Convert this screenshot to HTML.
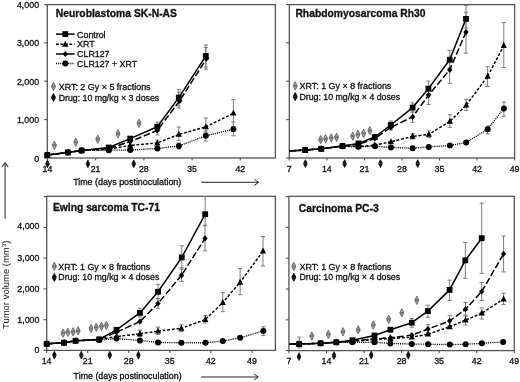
<!DOCTYPE html><html><head><meta charset="utf-8"><style>html,body{margin:0;padding:0;background:#fff;}svg{display:block;will-change:transform;}text{font-family:"Liberation Sans", sans-serif;}</style></head><body>
<svg width="520" height="382" viewBox="0 0 520 382">
<rect width="520" height="382" fill="#fff"/>
<rect x="47.3" y="4.6" width="228.10" height="153.40" fill="none" stroke="#555" stroke-width="1.3"/>
<line x1="44.10" y1="158.0" x2="47.3" y2="158.0" stroke="#555" stroke-width="1.1"/>
<text x="39.10" y="161.50" font-size="8.86" text-anchor="end" font-weight="normal" fill="#111" stroke="#111" stroke-width="0.3">0</text>
<line x1="44.10" y1="119.6" x2="47.3" y2="119.6" stroke="#555" stroke-width="1.1"/>
<text x="39.10" y="123.10" font-size="8.86" text-anchor="end" font-weight="normal" fill="#111" stroke="#111" stroke-width="0.3">1,000</text>
<line x1="44.10" y1="81.2" x2="47.3" y2="81.2" stroke="#555" stroke-width="1.1"/>
<text x="39.10" y="84.70" font-size="8.86" text-anchor="end" font-weight="normal" fill="#111" stroke="#111" stroke-width="0.3">2,000</text>
<line x1="44.10" y1="42.8" x2="47.3" y2="42.8" stroke="#555" stroke-width="1.1"/>
<text x="39.10" y="46.20" font-size="8.86" text-anchor="end" font-weight="normal" fill="#111" stroke="#111" stroke-width="0.3">3,000</text>
<line x1="44.10" y1="4.6" x2="47.3" y2="4.6" stroke="#555" stroke-width="1.1"/>
<text x="39.10" y="7.80" font-size="8.86" text-anchor="end" font-weight="normal" fill="#111" stroke="#111" stroke-width="0.3">4,000</text>
<line x1="47.40" y1="158.0" x2="47.40" y2="160.60" stroke="#555" stroke-width="1.1"/>
<text x="47.40" y="171.60" font-size="8.86" text-anchor="middle" font-weight="normal" fill="#111" stroke="#111" stroke-width="0.3">14</text>
<line x1="95.63" y1="158.0" x2="95.63" y2="160.60" stroke="#555" stroke-width="1.1"/>
<text x="95.63" y="171.60" font-size="8.86" text-anchor="middle" font-weight="normal" fill="#111" stroke="#111" stroke-width="0.3">21</text>
<line x1="143.86" y1="158.0" x2="143.86" y2="160.60" stroke="#555" stroke-width="1.1"/>
<text x="143.86" y="171.60" font-size="8.86" text-anchor="middle" font-weight="normal" fill="#111" stroke="#111" stroke-width="0.3">28</text>
<line x1="192.09" y1="158.0" x2="192.09" y2="160.60" stroke="#555" stroke-width="1.1"/>
<text x="192.09" y="171.60" font-size="8.86" text-anchor="middle" font-weight="normal" fill="#111" stroke="#111" stroke-width="0.3">35</text>
<line x1="240.32" y1="158.0" x2="240.32" y2="160.60" stroke="#555" stroke-width="1.1"/>
<text x="240.32" y="171.60" font-size="8.86" text-anchor="middle" font-weight="normal" fill="#111" stroke="#111" stroke-width="0.3">42</text>
<text x="55.80" y="17.20" font-size="10.0" text-anchor="start" font-weight="bold" fill="#111" stroke="#111" stroke-width="0.3" textLength="121.2" lengthAdjust="spacingAndGlyphs">Neuroblastoma SK-N-AS</text>
<path d="M53.50 82.30L55.50 86.20L51.50 86.20Z" fill="#a0a0a0" stroke="#5a5a5a" stroke-width="0.8"/><path d="M53.50 90.70L55.50 86.80L51.50 86.80Z" fill="#a0a0a0" stroke="#5a5a5a" stroke-width="0.8"/>
<text x="58.70" y="89.80" font-size="8.86" text-anchor="start" font-weight="normal" fill="#111" stroke="#111" stroke-width="0.3" textLength="91.9" lengthAdjust="spacingAndGlyphs">XRT: 2 Gy × 5 fractions</text>
<path d="M53.50 93.50L55.50 97.20L51.50 97.20Z" fill="#111" stroke="#000" stroke-width="0.8"/><path d="M53.50 101.50L55.50 97.80L51.50 97.80Z" fill="#111" stroke="#000" stroke-width="0.8"/>
<text x="58.70" y="100.50" font-size="8.86" text-anchor="start" font-weight="normal" fill="#111" stroke="#111" stroke-width="0.3" textLength="100.5" lengthAdjust="spacingAndGlyphs">Drug: 10 mg/kg × 3 doses</text>
<path d="M205.80 45.00V67.00M203.70 45.00H207.90M203.70 67.00H207.90" stroke="#7c7c7c" stroke-width="1.0" fill="none"/>
<path d="M205.80 47.60V69.10M203.70 47.60H207.90M203.70 69.10H207.90" stroke="#7c7c7c" stroke-width="1.0" fill="none"/>
<path d="M178.80 89.60V105.90M176.70 89.60H180.90M176.70 105.90H180.90" stroke="#7c7c7c" stroke-width="1.0" fill="none"/>
<path d="M178.80 92.20V108.00M176.70 92.20H180.90M176.70 108.00H180.90" stroke="#7c7c7c" stroke-width="1.0" fill="none"/>
<path d="M157.30 122.10V131.00M155.20 122.10H159.40M155.20 131.00H159.40" stroke="#7c7c7c" stroke-width="1.0" fill="none"/>
<path d="M157.30 125.00V134.90M155.20 125.00H159.40M155.20 134.90H159.40" stroke="#7c7c7c" stroke-width="1.0" fill="none"/>
<path d="M233.40 99.70V126.50M231.30 99.70H235.50M231.30 126.50H235.50" stroke="#7c7c7c" stroke-width="1.0" fill="none"/>
<path d="M205.80 118.00V133.00M203.70 118.00H207.90M203.70 133.00H207.90" stroke="#7c7c7c" stroke-width="1.0" fill="none"/>
<path d="M178.80 127.00V140.60M176.70 127.00H180.90M176.70 140.60H180.90" stroke="#7c7c7c" stroke-width="1.0" fill="none"/>
<path d="M157.30 140.10V146.00M155.20 140.10H159.40M155.20 146.00H159.40" stroke="#7c7c7c" stroke-width="1.0" fill="none"/>
<path d="M233.40 122.00V135.80M231.30 122.00H235.50M231.30 135.80H235.50" stroke="#7c7c7c" stroke-width="1.0" fill="none"/>
<path d="M205.80 131.00V141.00M203.70 131.00H207.90M203.70 141.00H207.90" stroke="#7c7c7c" stroke-width="1.0" fill="none"/>
<path d="M178.80 143.00V149.00M176.70 143.00H180.90M176.70 149.00H180.90" stroke="#7c7c7c" stroke-width="1.0" fill="none"/>
<path d="M54.40 141.10L56.40 145.00L52.40 145.00Z" fill="#a0a0a0" stroke="#5a5a5a" stroke-width="0.8"/><path d="M54.40 149.50L56.40 145.60L52.40 145.60Z" fill="#a0a0a0" stroke="#5a5a5a" stroke-width="0.8"/>
<path d="M75.80 138.00L77.80 141.90L73.80 141.90Z" fill="#a0a0a0" stroke="#5a5a5a" stroke-width="0.8"/><path d="M75.80 146.40L77.80 142.50L73.80 142.50Z" fill="#a0a0a0" stroke="#5a5a5a" stroke-width="0.8"/>
<path d="M97.80 135.10L99.80 139.00L95.80 139.00Z" fill="#a0a0a0" stroke="#5a5a5a" stroke-width="0.8"/><path d="M97.80 143.50L99.80 139.60L95.80 139.60Z" fill="#a0a0a0" stroke="#5a5a5a" stroke-width="0.8"/>
<path d="M118.00 129.60L120.00 133.50L116.00 133.50Z" fill="#a0a0a0" stroke="#5a5a5a" stroke-width="0.8"/><path d="M118.00 138.00L120.00 134.10L116.00 134.10Z" fill="#a0a0a0" stroke="#5a5a5a" stroke-width="0.8"/>
<path d="M139.00 119.10L141.00 123.00L137.00 123.00Z" fill="#a0a0a0" stroke="#5a5a5a" stroke-width="0.8"/><path d="M139.00 127.50L141.00 123.60L137.00 123.60Z" fill="#a0a0a0" stroke="#5a5a5a" stroke-width="0.8"/>
<path d="M47.50 159.90L49.30 163.50L45.70 163.50Z" fill="#111" stroke="#000" stroke-width="0.7"/><path d="M47.50 167.70L49.30 164.10L45.70 164.10Z" fill="#111" stroke="#000" stroke-width="0.7"/>
<path d="M87.90 159.90L89.70 163.50L86.10 163.50Z" fill="#111" stroke="#000" stroke-width="0.7"/><path d="M87.90 167.70L89.70 164.10L86.10 164.10Z" fill="#111" stroke="#000" stroke-width="0.7"/>
<path d="M133.75 159.90L135.55 163.50L131.95 163.50Z" fill="#111" stroke="#000" stroke-width="0.7"/><path d="M133.75 167.70L135.55 164.10L131.95 164.10Z" fill="#111" stroke="#000" stroke-width="0.7"/>
<path d="M47.30 155.00C47.30 155.00 68.00 152.40 68.00 152.40C68.00 152.40 81.60 150.50 81.60 150.50C81.60 150.50 108.80 147.50 108.80 147.50C108.80 147.50 130.20 138.60 130.20 138.60C130.20 138.60 157.30 126.80 157.30 126.80C157.30 126.80 178.80 97.60 178.80 97.60C178.80 97.60 205.80 56.00 205.80 56.00" fill="none" stroke="#000" stroke-width="1.5" stroke-linejoin="round"/>
<path d="M47.30 155.00C47.30 155.00 68.00 152.40 68.00 152.40C68.00 152.40 81.60 150.50 81.60 150.50C81.60 150.50 108.80 149.20 108.80 149.20C108.80 149.20 130.20 145.40 130.20 145.40C130.20 145.40 157.30 143.00 157.30 143.00C157.30 143.00 178.80 134.40 178.80 134.40C178.80 134.40 205.80 126.90 205.80 126.90C205.80 126.90 233.40 113.20 233.40 113.20" fill="none" stroke="#000" stroke-width="1.45" stroke-dasharray="2.8,1.7" stroke-linejoin="round"/>
<path d="M47.30 155.00C47.30 155.00 68.00 152.40 68.00 152.40C68.00 152.40 81.60 150.50 81.60 150.50C81.60 150.50 108.80 148.40 108.80 148.40C108.80 148.40 130.20 141.60 130.20 141.60C130.20 141.60 157.30 130.40 157.30 130.40C157.30 130.40 179.60 100.90 179.60 100.90C179.60 100.90 206.60 58.60 206.60 58.60" fill="none" stroke="#000" stroke-width="1.5" stroke-dasharray="6.5,2.5" stroke-linejoin="round"/>
<path d="M47.30 155.00C47.30 155.00 68.00 152.40 68.00 152.40C68.00 152.40 81.60 150.50 81.60 150.50C81.60 150.50 108.80 150.20 108.80 150.20C108.80 150.20 130.20 150.00 130.20 150.00C130.20 150.00 157.30 148.50 157.30 148.50C157.30 148.50 178.80 145.90 178.80 145.90C178.80 145.90 205.80 135.80 205.80 135.80C205.80 135.80 233.40 129.20 233.40 129.20" fill="none" stroke="#000" stroke-width="1.35" stroke-dasharray="1.05,1.0" stroke-linejoin="round"/>
<rect x="44.40" y="152.10" width="5.8" height="5.8" fill="#000"/>
<rect x="65.10" y="149.50" width="5.8" height="5.8" fill="#000"/>
<rect x="78.70" y="147.60" width="5.8" height="5.8" fill="#000"/>
<rect x="105.90" y="144.60" width="5.8" height="5.8" fill="#000"/>
<rect x="127.30" y="135.70" width="5.8" height="5.8" fill="#000"/>
<rect x="154.40" y="123.90" width="5.8" height="5.8" fill="#000"/>
<rect x="175.90" y="94.70" width="5.8" height="5.8" fill="#000"/>
<rect x="202.90" y="53.10" width="5.8" height="5.8" fill="#000"/>
<path d="M47.30 151.40L50.40 157.40L44.20 157.40Z" fill="#000"/>
<path d="M68.00 148.80L71.10 154.80L64.90 154.80Z" fill="#000"/>
<path d="M81.60 146.90L84.70 152.90L78.50 152.90Z" fill="#000"/>
<path d="M108.80 145.60L111.90 151.60L105.70 151.60Z" fill="#000"/>
<path d="M130.20 141.80L133.30 147.80L127.10 147.80Z" fill="#000"/>
<path d="M157.30 139.40L160.40 145.40L154.20 145.40Z" fill="#000"/>
<path d="M178.80 130.80L181.90 136.80L175.70 136.80Z" fill="#000"/>
<path d="M205.80 123.30L208.90 129.30L202.70 129.30Z" fill="#000"/>
<path d="M233.40 109.60L236.50 115.60L230.30 115.60Z" fill="#000"/>
<path d="M47.30 151.90L50.00 155.00L47.30 158.10L44.60 155.00Z" fill="#000"/>
<path d="M68.00 149.30L70.70 152.40L68.00 155.50L65.30 152.40Z" fill="#000"/>
<path d="M81.60 147.40L84.30 150.50L81.60 153.60L78.90 150.50Z" fill="#000"/>
<path d="M108.80 145.30L111.50 148.40L108.80 151.50L106.10 148.40Z" fill="#000"/>
<path d="M130.20 138.50L132.90 141.60L130.20 144.70L127.50 141.60Z" fill="#000"/>
<path d="M157.30 127.30L160.00 130.40L157.30 133.50L154.60 130.40Z" fill="#000"/>
<path d="M179.60 97.80L182.30 100.90L179.60 104.00L176.90 100.90Z" fill="#000"/>
<path d="M206.60 55.50L209.30 58.60L206.60 61.70L203.90 58.60Z" fill="#000"/>
<circle cx="47.30" cy="155.00" r="3.0" fill="#000"/>
<circle cx="68.00" cy="152.40" r="3.0" fill="#000"/>
<circle cx="81.60" cy="150.50" r="3.0" fill="#000"/>
<circle cx="108.80" cy="150.20" r="3.0" fill="#000"/>
<circle cx="130.20" cy="150.00" r="3.0" fill="#000"/>
<circle cx="157.30" cy="148.50" r="3.0" fill="#000"/>
<circle cx="178.80" cy="145.90" r="3.0" fill="#000"/>
<circle cx="205.80" cy="135.80" r="3.0" fill="#000"/>
<circle cx="233.40" cy="129.20" r="3.0" fill="#000"/>
<rect x="289.3" y="4.6" width="225.30" height="153.40" fill="none" stroke="#555" stroke-width="1.3"/>
<line x1="286.10" y1="158.0" x2="289.3" y2="158.0" stroke="#555" stroke-width="1.1"/>
<line x1="286.10" y1="119.6" x2="289.3" y2="119.6" stroke="#555" stroke-width="1.1"/>
<line x1="286.10" y1="81.2" x2="289.3" y2="81.2" stroke="#555" stroke-width="1.1"/>
<line x1="286.10" y1="42.8" x2="289.3" y2="42.8" stroke="#555" stroke-width="1.1"/>
<line x1="286.10" y1="4.6" x2="289.3" y2="4.6" stroke="#555" stroke-width="1.1"/>
<line x1="289.30" y1="158.0" x2="289.30" y2="160.60" stroke="#555" stroke-width="1.1"/>
<text x="289.30" y="171.60" font-size="8.86" text-anchor="middle" font-weight="normal" fill="#111" stroke="#111" stroke-width="0.3">7</text>
<line x1="326.86" y1="158.0" x2="326.86" y2="160.60" stroke="#555" stroke-width="1.1"/>
<text x="326.86" y="171.60" font-size="8.86" text-anchor="middle" font-weight="normal" fill="#111" stroke="#111" stroke-width="0.3">14</text>
<line x1="364.41" y1="158.0" x2="364.41" y2="160.60" stroke="#555" stroke-width="1.1"/>
<text x="364.41" y="171.60" font-size="8.86" text-anchor="middle" font-weight="normal" fill="#111" stroke="#111" stroke-width="0.3">21</text>
<line x1="401.97" y1="158.0" x2="401.97" y2="160.60" stroke="#555" stroke-width="1.1"/>
<text x="401.97" y="171.60" font-size="8.86" text-anchor="middle" font-weight="normal" fill="#111" stroke="#111" stroke-width="0.3">28</text>
<line x1="439.52" y1="158.0" x2="439.52" y2="160.60" stroke="#555" stroke-width="1.1"/>
<text x="439.52" y="171.60" font-size="8.86" text-anchor="middle" font-weight="normal" fill="#111" stroke="#111" stroke-width="0.3">35</text>
<line x1="477.08" y1="158.0" x2="477.08" y2="160.60" stroke="#555" stroke-width="1.1"/>
<text x="477.08" y="171.60" font-size="8.86" text-anchor="middle" font-weight="normal" fill="#111" stroke="#111" stroke-width="0.3">42</text>
<line x1="514.63" y1="158.0" x2="514.63" y2="160.60" stroke="#555" stroke-width="1.1"/>
<text x="514.63" y="171.60" font-size="8.86" text-anchor="middle" font-weight="normal" fill="#111" stroke="#111" stroke-width="0.3">49</text>
<text x="295.40" y="17.40" font-size="10.0" text-anchor="start" font-weight="bold" fill="#111" stroke="#111" stroke-width="0.3" textLength="130.20000000000002" lengthAdjust="spacingAndGlyphs">Rhabdomyosarcoma Rh30</text>
<path d="M295.20 81.70L297.20 85.60L293.20 85.60Z" fill="#a0a0a0" stroke="#5a5a5a" stroke-width="0.8"/><path d="M295.20 90.10L297.20 86.20L293.20 86.20Z" fill="#a0a0a0" stroke="#5a5a5a" stroke-width="0.8"/>
<text x="299.50" y="89.20" font-size="8.86" text-anchor="start" font-weight="normal" fill="#111" stroke="#111" stroke-width="0.3" textLength="91.8" lengthAdjust="spacingAndGlyphs">XRT: 1 Gy × 8 fractions</text>
<path d="M295.20 92.60L297.20 96.30L293.20 96.30Z" fill="#111" stroke="#000" stroke-width="0.8"/><path d="M295.20 100.60L297.20 96.90L293.20 96.90Z" fill="#111" stroke="#000" stroke-width="0.8"/>
<text x="299.50" y="99.60" font-size="8.86" text-anchor="start" font-weight="normal" fill="#111" stroke="#111" stroke-width="0.3" textLength="100.6" lengthAdjust="spacingAndGlyphs">Drug: 10 mg/kg × 4 doses</text>
<path d="M466.00 5.50V28.00M463.90 5.50H468.10M463.90 28.00H468.10" stroke="#7c7c7c" stroke-width="1.0" fill="none"/>
<path d="M466.00 12.20V53.10M463.90 12.20H468.10M463.90 53.10H468.10" stroke="#7c7c7c" stroke-width="1.0" fill="none"/>
<path d="M449.70 50.30V68.00M447.60 50.30H451.80M447.60 68.00H451.80" stroke="#7c7c7c" stroke-width="1.0" fill="none"/>
<path d="M449.70 58.00V83.30M447.60 58.00H451.80M447.60 83.30H451.80" stroke="#7c7c7c" stroke-width="1.0" fill="none"/>
<path d="M428.40 81.10V95.00M426.30 81.10H430.50M426.30 95.00H430.50" stroke="#7c7c7c" stroke-width="1.0" fill="none"/>
<path d="M428.60 88.00V104.40M426.50 88.00H430.70M426.50 104.40H430.70" stroke="#7c7c7c" stroke-width="1.0" fill="none"/>
<path d="M412.60 103.00V112.00M410.50 103.00H414.70M410.50 112.00H414.70" stroke="#7c7c7c" stroke-width="1.0" fill="none"/>
<path d="M412.60 112.00V122.40M410.50 112.00H414.70M410.50 122.40H414.70" stroke="#7c7c7c" stroke-width="1.0" fill="none"/>
<path d="M390.80 121.00V130.00M388.70 121.00H392.90M388.70 130.00H392.90" stroke="#7c7c7c" stroke-width="1.0" fill="none"/>
<path d="M503.80 22.60V67.60M501.70 22.60H505.90M501.70 67.60H505.90" stroke="#7c7c7c" stroke-width="1.0" fill="none"/>
<path d="M487.60 66.70V86.50M485.50 66.70H489.70M485.50 86.50H489.70" stroke="#7c7c7c" stroke-width="1.0" fill="none"/>
<path d="M466.20 99.40V110.30M464.10 99.40H468.30M464.10 110.30H468.30" stroke="#7c7c7c" stroke-width="1.0" fill="none"/>
<path d="M449.90 114.70V127.30M447.80 114.70H452.00M447.80 127.30H452.00" stroke="#7c7c7c" stroke-width="1.0" fill="none"/>
<path d="M428.80 131.00V137.50M426.70 131.00H430.90M426.70 137.50H430.90" stroke="#7c7c7c" stroke-width="1.0" fill="none"/>
<path d="M412.60 133.50V139.00M410.50 133.50H414.70M410.50 139.00H414.70" stroke="#7c7c7c" stroke-width="1.0" fill="none"/>
<path d="M503.90 101.90V116.20M501.80 101.90H506.00M501.80 116.20H506.00" stroke="#7c7c7c" stroke-width="1.0" fill="none"/>
<path d="M487.70 126.00V134.00M485.60 126.00H489.80M485.60 134.00H489.80" stroke="#7c7c7c" stroke-width="1.0" fill="none"/>
<path d="M320.60 135.40L322.60 139.30L318.60 139.30Z" fill="#a0a0a0" stroke="#5a5a5a" stroke-width="0.8"/><path d="M320.60 143.80L322.60 139.90L318.60 139.90Z" fill="#a0a0a0" stroke="#5a5a5a" stroke-width="0.8"/>
<path d="M325.60 134.60L327.60 138.50L323.60 138.50Z" fill="#a0a0a0" stroke="#5a5a5a" stroke-width="0.8"/><path d="M325.60 143.00L327.60 139.10L323.60 139.10Z" fill="#a0a0a0" stroke="#5a5a5a" stroke-width="0.8"/>
<path d="M331.20 133.70L333.20 137.60L329.20 137.60Z" fill="#a0a0a0" stroke="#5a5a5a" stroke-width="0.8"/><path d="M331.20 142.10L333.20 138.20L329.20 138.20Z" fill="#a0a0a0" stroke="#5a5a5a" stroke-width="0.8"/>
<path d="M336.50 133.10L338.50 137.00L334.50 137.00Z" fill="#a0a0a0" stroke="#5a5a5a" stroke-width="0.8"/><path d="M336.50 141.50L338.50 137.60L334.50 137.60Z" fill="#a0a0a0" stroke="#5a5a5a" stroke-width="0.8"/>
<path d="M352.70 131.90L354.70 135.80L350.70 135.80Z" fill="#a0a0a0" stroke="#5a5a5a" stroke-width="0.8"/><path d="M352.70 140.30L354.70 136.40L350.70 136.40Z" fill="#a0a0a0" stroke="#5a5a5a" stroke-width="0.8"/>
<path d="M357.90 130.20L359.90 134.10L355.90 134.10Z" fill="#a0a0a0" stroke="#5a5a5a" stroke-width="0.8"/><path d="M357.90 138.60L359.90 134.70L355.90 134.70Z" fill="#a0a0a0" stroke="#5a5a5a" stroke-width="0.8"/>
<path d="M363.60 129.10L365.60 133.00L361.60 133.00Z" fill="#a0a0a0" stroke="#5a5a5a" stroke-width="0.8"/><path d="M363.60 137.50L365.60 133.60L361.60 133.60Z" fill="#a0a0a0" stroke="#5a5a5a" stroke-width="0.8"/>
<path d="M369.80 126.40L371.80 130.30L367.80 130.30Z" fill="#a0a0a0" stroke="#5a5a5a" stroke-width="0.8"/><path d="M369.80 134.80L371.80 130.90L367.80 130.90Z" fill="#a0a0a0" stroke="#5a5a5a" stroke-width="0.8"/>
<path d="M305.40 159.70L307.20 163.30L303.60 163.30Z" fill="#111" stroke="#000" stroke-width="0.7"/><path d="M305.40 167.50L307.20 163.90L303.60 163.90Z" fill="#111" stroke="#000" stroke-width="0.7"/>
<path d="M344.60 159.70L346.40 163.30L342.80 163.30Z" fill="#111" stroke="#000" stroke-width="0.7"/><path d="M344.60 167.50L346.40 163.90L342.80 163.90Z" fill="#111" stroke="#000" stroke-width="0.7"/>
<path d="M380.50 159.70L382.30 163.30L378.70 163.30Z" fill="#111" stroke="#000" stroke-width="0.7"/><path d="M380.50 167.50L382.30 163.90L378.70 163.90Z" fill="#111" stroke="#000" stroke-width="0.7"/>
<path d="M417.70 159.70L419.50 163.30L415.90 163.30Z" fill="#111" stroke="#000" stroke-width="0.7"/><path d="M417.70 167.50L419.50 163.90L415.90 163.90Z" fill="#111" stroke="#000" stroke-width="0.7"/>
<path d="M289.50 151.00C289.50 151.00 305.20 150.00 305.20 150.00C305.20 150.00 321.20 148.80 321.20 148.80C321.20 148.80 342.50 146.00 342.50 146.00C342.50 146.00 358.50 143.40 358.50 143.40C358.50 143.40 374.80 137.00 374.80 137.00C374.80 137.00 390.80 125.00 390.80 125.00C390.80 125.00 412.60 107.60 412.60 107.60C412.60 107.60 428.40 88.70 428.40 88.70C428.40 88.70 449.70 59.70 449.70 59.70C449.70 59.70 466.00 18.90 466.00 18.90" fill="none" stroke="#000" stroke-width="1.5" stroke-linejoin="round"/>
<path d="M289.50 151.00C289.50 151.00 305.20 150.00 305.20 150.00C305.20 150.00 321.20 148.80 321.20 148.80C321.20 148.80 342.50 146.20 342.50 146.20C342.50 146.20 358.50 146.50 358.50 146.50C358.50 146.50 374.80 145.20 374.80 145.20C374.80 145.20 390.90 141.80 390.90 141.80C390.90 141.80 412.60 136.40 412.60 136.40C412.60 136.40 428.80 134.40 428.80 134.40C428.80 134.40 449.90 121.30 449.90 121.30C449.90 121.30 466.20 105.20 466.20 105.20C466.20 105.20 487.60 76.40 487.60 76.40C487.60 76.40 503.80 45.60 503.80 45.60" fill="none" stroke="#000" stroke-width="1.45" stroke-dasharray="2.8,1.7" stroke-linejoin="round"/>
<path d="M289.50 151.00C289.50 151.00 305.20 150.00 305.20 150.00C305.20 150.00 321.20 148.80 321.20 148.80C321.20 148.80 342.50 146.00 342.50 146.00C342.50 146.00 358.50 144.50 358.50 144.50C358.50 144.50 374.80 138.50 374.80 138.50C374.80 138.50 390.80 127.40 390.80 127.40C390.80 127.40 412.60 116.90 412.60 116.90C412.60 116.90 428.60 95.10 428.60 95.10C428.60 95.10 449.70 69.80 449.70 69.80C449.70 69.80 466.00 32.10 466.00 32.10" fill="none" stroke="#000" stroke-width="1.5" stroke-dasharray="6.5,2.5" stroke-linejoin="round"/>
<path d="M289.50 151.00C289.50 151.00 305.20 150.00 305.20 150.00C305.20 150.00 321.20 148.80 321.20 148.80C321.20 148.80 342.50 146.20 342.50 146.20C342.50 146.20 358.50 146.80 358.50 146.80C358.50 146.80 375.00 146.30 375.00 146.30C375.00 146.30 390.90 147.40 390.90 147.40C390.90 147.40 412.60 148.20 412.60 148.20C412.60 148.20 428.80 146.90 428.80 146.90C428.80 146.90 449.90 145.50 449.90 145.50C449.90 145.50 466.20 142.40 466.20 142.40C466.20 142.40 487.70 129.20 487.70 129.20C487.70 129.20 503.90 108.40 503.90 108.40" fill="none" stroke="#000" stroke-width="1.35" stroke-dasharray="1.05,1.0" stroke-linejoin="round"/>
<rect x="302.30" y="147.10" width="5.8" height="5.8" fill="#000"/>
<rect x="318.30" y="145.90" width="5.8" height="5.8" fill="#000"/>
<rect x="339.60" y="143.10" width="5.8" height="5.8" fill="#000"/>
<rect x="355.60" y="140.50" width="5.8" height="5.8" fill="#000"/>
<rect x="371.90" y="134.10" width="5.8" height="5.8" fill="#000"/>
<rect x="387.90" y="122.10" width="5.8" height="5.8" fill="#000"/>
<rect x="409.70" y="104.70" width="5.8" height="5.8" fill="#000"/>
<rect x="425.50" y="85.80" width="5.8" height="5.8" fill="#000"/>
<rect x="446.80" y="56.80" width="5.8" height="5.8" fill="#000"/>
<rect x="463.10" y="16.00" width="5.8" height="5.8" fill="#000"/>
<path d="M305.20 146.40L308.30 152.40L302.10 152.40Z" fill="#000"/>
<path d="M321.20 145.20L324.30 151.20L318.10 151.20Z" fill="#000"/>
<path d="M342.50 142.60L345.60 148.60L339.40 148.60Z" fill="#000"/>
<path d="M358.50 142.90L361.60 148.90L355.40 148.90Z" fill="#000"/>
<path d="M374.80 141.60L377.90 147.60L371.70 147.60Z" fill="#000"/>
<path d="M390.90 138.20L394.00 144.20L387.80 144.20Z" fill="#000"/>
<path d="M412.60 132.80L415.70 138.80L409.50 138.80Z" fill="#000"/>
<path d="M428.80 130.80L431.90 136.80L425.70 136.80Z" fill="#000"/>
<path d="M449.90 117.70L453.00 123.70L446.80 123.70Z" fill="#000"/>
<path d="M466.20 101.60L469.30 107.60L463.10 107.60Z" fill="#000"/>
<path d="M487.60 72.80L490.70 78.80L484.50 78.80Z" fill="#000"/>
<path d="M503.80 42.00L506.90 48.00L500.70 48.00Z" fill="#000"/>
<path d="M305.20 146.90L307.90 150.00L305.20 153.10L302.50 150.00Z" fill="#000"/>
<path d="M321.20 145.70L323.90 148.80L321.20 151.90L318.50 148.80Z" fill="#000"/>
<path d="M342.50 142.90L345.20 146.00L342.50 149.10L339.80 146.00Z" fill="#000"/>
<path d="M358.50 141.40L361.20 144.50L358.50 147.60L355.80 144.50Z" fill="#000"/>
<path d="M374.80 135.40L377.50 138.50L374.80 141.60L372.10 138.50Z" fill="#000"/>
<path d="M390.80 124.30L393.50 127.40L390.80 130.50L388.10 127.40Z" fill="#000"/>
<path d="M412.60 113.80L415.30 116.90L412.60 120.00L409.90 116.90Z" fill="#000"/>
<path d="M428.60 92.00L431.30 95.10L428.60 98.20L425.90 95.10Z" fill="#000"/>
<path d="M449.70 66.70L452.40 69.80L449.70 72.90L447.00 69.80Z" fill="#000"/>
<path d="M466.00 29.00L468.70 32.10L466.00 35.20L463.30 32.10Z" fill="#000"/>
<circle cx="305.20" cy="150.00" r="3.0" fill="#000"/>
<circle cx="321.20" cy="148.80" r="3.0" fill="#000"/>
<circle cx="342.50" cy="146.20" r="3.0" fill="#000"/>
<circle cx="358.50" cy="146.80" r="3.0" fill="#000"/>
<circle cx="375.00" cy="146.30" r="3.0" fill="#000"/>
<circle cx="390.90" cy="147.40" r="3.0" fill="#000"/>
<circle cx="412.60" cy="148.20" r="3.0" fill="#000"/>
<circle cx="428.80" cy="146.90" r="3.0" fill="#000"/>
<circle cx="449.90" cy="145.50" r="3.0" fill="#000"/>
<circle cx="466.20" cy="142.40" r="3.0" fill="#000"/>
<circle cx="487.70" cy="129.20" r="3.0" fill="#000"/>
<circle cx="503.90" cy="108.40" r="3.0" fill="#000"/>
<rect x="46.7" y="196.3" width="228.70" height="154.10" fill="none" stroke="#555" stroke-width="1.3"/>
<line x1="43.50" y1="350.4" x2="46.7" y2="350.4" stroke="#555" stroke-width="1.1"/>
<text x="39.40" y="353.40" font-size="8.86" text-anchor="end" font-weight="normal" fill="#111" stroke="#111" stroke-width="0.3">0</text>
<line x1="43.50" y1="319.7" x2="46.7" y2="319.7" stroke="#555" stroke-width="1.1"/>
<text x="39.40" y="322.70" font-size="8.86" text-anchor="end" font-weight="normal" fill="#111" stroke="#111" stroke-width="0.3">1,000</text>
<line x1="43.50" y1="288.9" x2="46.7" y2="288.9" stroke="#555" stroke-width="1.1"/>
<text x="39.40" y="291.80" font-size="8.86" text-anchor="end" font-weight="normal" fill="#111" stroke="#111" stroke-width="0.3">2,000</text>
<line x1="43.50" y1="258.1" x2="46.7" y2="258.1" stroke="#555" stroke-width="1.1"/>
<text x="39.40" y="260.50" font-size="8.86" text-anchor="end" font-weight="normal" fill="#111" stroke="#111" stroke-width="0.3">3,000</text>
<line x1="43.50" y1="227.4" x2="46.7" y2="227.4" stroke="#555" stroke-width="1.1"/>
<text x="39.40" y="229.00" font-size="8.86" text-anchor="end" font-weight="normal" fill="#111" stroke="#111" stroke-width="0.3">4,000</text>
<line x1="43.50" y1="196.6" x2="46.7" y2="196.6" stroke="#555" stroke-width="1.1"/>
<line x1="46.60" y1="350.4" x2="46.60" y2="353.00" stroke="#555" stroke-width="1.1"/>
<text x="46.60" y="363.80" font-size="8.86" text-anchor="middle" font-weight="normal" fill="#111" stroke="#111" stroke-width="0.3">14</text>
<line x1="87.66" y1="350.4" x2="87.66" y2="353.00" stroke="#555" stroke-width="1.1"/>
<text x="87.66" y="363.80" font-size="8.86" text-anchor="middle" font-weight="normal" fill="#111" stroke="#111" stroke-width="0.3">21</text>
<line x1="128.72" y1="350.4" x2="128.72" y2="353.00" stroke="#555" stroke-width="1.1"/>
<text x="128.72" y="363.80" font-size="8.86" text-anchor="middle" font-weight="normal" fill="#111" stroke="#111" stroke-width="0.3">28</text>
<line x1="169.79" y1="350.4" x2="169.79" y2="353.00" stroke="#555" stroke-width="1.1"/>
<text x="169.79" y="363.80" font-size="8.86" text-anchor="middle" font-weight="normal" fill="#111" stroke="#111" stroke-width="0.3">35</text>
<line x1="210.85" y1="350.4" x2="210.85" y2="353.00" stroke="#555" stroke-width="1.1"/>
<text x="210.85" y="363.80" font-size="8.86" text-anchor="middle" font-weight="normal" fill="#111" stroke="#111" stroke-width="0.3">42</text>
<line x1="251.91" y1="350.4" x2="251.91" y2="353.00" stroke="#555" stroke-width="1.1"/>
<text x="251.91" y="363.80" font-size="8.86" text-anchor="middle" font-weight="normal" fill="#111" stroke="#111" stroke-width="0.3">49</text>
<text x="53.00" y="211.00" font-size="10.0" text-anchor="start" font-weight="bold" fill="#111" stroke="#111" stroke-width="0.3" textLength="106.9" lengthAdjust="spacingAndGlyphs">Ewing sarcoma TC-71</text>
<path d="M54.30 262.10L56.30 266.00L52.30 266.00Z" fill="#a0a0a0" stroke="#5a5a5a" stroke-width="0.8"/><path d="M54.30 270.50L56.30 266.60L52.30 266.60Z" fill="#a0a0a0" stroke="#5a5a5a" stroke-width="0.8"/>
<text x="58.30" y="269.60" font-size="8.86" text-anchor="start" font-weight="normal" fill="#111" stroke="#111" stroke-width="0.3" textLength="91.8" lengthAdjust="spacingAndGlyphs">XRT: 1 Gy × 8 fractions</text>
<path d="M54.30 273.40L56.30 277.10L52.30 277.10Z" fill="#111" stroke="#000" stroke-width="0.8"/><path d="M54.30 281.40L56.30 277.70L52.30 277.70Z" fill="#111" stroke="#000" stroke-width="0.8"/>
<text x="58.30" y="280.40" font-size="8.86" text-anchor="start" font-weight="normal" fill="#111" stroke="#111" stroke-width="0.3" textLength="101.0" lengthAdjust="spacingAndGlyphs">Drug: 10 mg/kg × 4 doses</text>
<path d="M205.20 196.60V225.20M203.10 196.60H207.30M203.10 225.20H207.30" stroke="#7c7c7c" stroke-width="1.0" fill="none"/>
<path d="M181.80 245.80V269.20M179.70 245.80H183.90M179.70 269.20H183.90" stroke="#7c7c7c" stroke-width="1.0" fill="none"/>
<path d="M158.00 284.30V299.00M155.90 284.30H160.10M155.90 299.00H160.10" stroke="#7c7c7c" stroke-width="1.0" fill="none"/>
<path d="M139.90 308.20V317.00M137.80 308.20H142.00M137.80 317.00H142.00" stroke="#7c7c7c" stroke-width="1.0" fill="none"/>
<path d="M205.00 225.80V250.80M202.90 225.80H207.10M202.90 250.80H207.10" stroke="#7c7c7c" stroke-width="1.0" fill="none"/>
<path d="M181.50 267.80V281.50M179.40 267.80H183.60M179.40 281.50H183.60" stroke="#7c7c7c" stroke-width="1.0" fill="none"/>
<path d="M158.00 298.50V308.20M155.90 298.50H160.10M155.90 308.20H160.10" stroke="#7c7c7c" stroke-width="1.0" fill="none"/>
<path d="M263.00 236.50V266.00M260.90 236.50H265.10M260.90 266.00H265.10" stroke="#7c7c7c" stroke-width="1.0" fill="none"/>
<path d="M240.10 268.60V294.70M238.00 268.60H242.20M238.00 294.70H242.20" stroke="#7c7c7c" stroke-width="1.0" fill="none"/>
<path d="M222.80 292.70V311.70M220.70 292.70H224.90M220.70 311.70H224.90" stroke="#7c7c7c" stroke-width="1.0" fill="none"/>
<path d="M205.30 315.50V323.00M203.20 315.50H207.40M203.20 323.00H207.40" stroke="#7c7c7c" stroke-width="1.0" fill="none"/>
<path d="M181.30 324.80V331.50M179.20 324.80H183.40M179.20 331.50H183.40" stroke="#7c7c7c" stroke-width="1.0" fill="none"/>
<path d="M158.00 327.10V334.50M155.90 327.10H160.10M155.90 334.50H160.10" stroke="#7c7c7c" stroke-width="1.0" fill="none"/>
<path d="M139.90 330.10V336.50M137.80 330.10H142.00M137.80 336.50H142.00" stroke="#7c7c7c" stroke-width="1.0" fill="none"/>
<path d="M263.40 326.80V335.60M261.30 326.80H265.50M261.30 335.60H265.50" stroke="#7c7c7c" stroke-width="1.0" fill="none"/>
<path d="M63.10 328.90L65.10 332.80L61.10 332.80Z" fill="#a0a0a0" stroke="#5a5a5a" stroke-width="0.8"/><path d="M63.10 337.30L65.10 333.40L61.10 333.40Z" fill="#a0a0a0" stroke="#5a5a5a" stroke-width="0.8"/>
<path d="M67.90 328.10L69.90 332.00L65.90 332.00Z" fill="#a0a0a0" stroke="#5a5a5a" stroke-width="0.8"/><path d="M67.90 336.50L69.90 332.60L65.90 332.60Z" fill="#a0a0a0" stroke="#5a5a5a" stroke-width="0.8"/>
<path d="M73.10 327.50L75.10 331.40L71.10 331.40Z" fill="#a0a0a0" stroke="#5a5a5a" stroke-width="0.8"/><path d="M73.10 335.90L75.10 332.00L71.10 332.00Z" fill="#a0a0a0" stroke="#5a5a5a" stroke-width="0.8"/>
<path d="M78.10 326.60L80.10 330.50L76.10 330.50Z" fill="#a0a0a0" stroke="#5a5a5a" stroke-width="0.8"/><path d="M78.10 335.00L80.10 331.10L76.10 331.10Z" fill="#a0a0a0" stroke="#5a5a5a" stroke-width="0.8"/>
<path d="M91.00 324.30L93.00 328.20L89.00 328.20Z" fill="#a0a0a0" stroke="#5a5a5a" stroke-width="0.8"/><path d="M91.00 332.70L93.00 328.80L89.00 328.80Z" fill="#a0a0a0" stroke="#5a5a5a" stroke-width="0.8"/>
<path d="M96.20 323.10L98.20 327.00L94.20 327.00Z" fill="#a0a0a0" stroke="#5a5a5a" stroke-width="0.8"/><path d="M96.20 331.50L98.20 327.60L94.20 327.60Z" fill="#a0a0a0" stroke="#5a5a5a" stroke-width="0.8"/>
<path d="M101.50 322.10L103.50 326.00L99.50 326.00Z" fill="#a0a0a0" stroke="#5a5a5a" stroke-width="0.8"/><path d="M101.50 330.50L103.50 326.60L99.50 326.60Z" fill="#a0a0a0" stroke="#5a5a5a" stroke-width="0.8"/>
<path d="M106.30 321.20L108.30 325.10L104.30 325.10Z" fill="#a0a0a0" stroke="#5a5a5a" stroke-width="0.8"/><path d="M106.30 329.60L108.30 325.70L104.30 325.70Z" fill="#a0a0a0" stroke="#5a5a5a" stroke-width="0.8"/>
<path d="M54.40 351.30L56.20 354.90L52.60 354.90Z" fill="#111" stroke="#000" stroke-width="0.7"/><path d="M54.40 359.10L56.20 355.50L52.60 355.50Z" fill="#111" stroke="#000" stroke-width="0.7"/>
<path d="M81.30 351.30L83.10 354.90L79.50 354.90Z" fill="#111" stroke="#000" stroke-width="0.7"/><path d="M81.30 359.10L83.10 355.50L79.50 355.50Z" fill="#111" stroke="#000" stroke-width="0.7"/>
<path d="M109.80 351.30L111.60 354.90L108.00 354.90Z" fill="#111" stroke="#000" stroke-width="0.7"/><path d="M109.80 359.10L111.60 355.50L108.00 355.50Z" fill="#111" stroke="#000" stroke-width="0.7"/>
<path d="M138.40 351.30L140.20 354.90L136.60 354.90Z" fill="#111" stroke="#000" stroke-width="0.7"/><path d="M138.40 359.10L140.20 355.50L136.60 355.50Z" fill="#111" stroke="#000" stroke-width="0.7"/>
<path d="M46.70 343.80C46.70 343.80 64.00 342.70 64.00 342.70C64.00 342.70 75.60 340.80 75.60 340.80C75.60 340.80 99.20 339.40 99.20 339.40C99.20 339.40 116.50 329.80 116.50 329.80C116.50 329.80 139.90 312.90 139.90 312.90C139.90 312.90 158.00 291.80 158.00 291.80C158.00 291.80 181.80 257.40 181.80 257.40C181.80 257.40 205.20 214.20 205.20 214.20" fill="none" stroke="#000" stroke-width="1.5" stroke-linejoin="round"/>
<path d="M46.70 343.80C46.70 343.80 64.00 342.70 64.00 342.70C64.00 342.70 75.60 340.80 75.60 340.80C75.60 340.80 99.20 339.60 99.20 339.60C99.20 339.60 116.50 336.60 116.50 336.60C116.50 336.60 139.90 333.80 139.90 333.80C139.90 333.80 158.00 331.10 158.00 331.10C158.00 331.10 181.30 328.30 181.30 328.30C181.30 328.30 205.30 319.60 205.30 319.60C205.30 319.60 222.80 302.50 222.80 302.50C222.80 302.50 240.10 282.30 240.10 282.30C240.10 282.30 263.00 251.20 263.00 251.20" fill="none" stroke="#000" stroke-width="1.45" stroke-dasharray="2.8,1.7" stroke-linejoin="round"/>
<path d="M46.70 343.80C46.70 343.80 64.00 342.70 64.00 342.70C64.00 342.70 75.60 340.80 75.60 340.80C75.60 340.80 99.20 339.40 99.20 339.40C99.20 339.40 116.50 332.20 116.50 332.20C116.50 332.20 139.90 321.60 139.90 321.60C139.90 321.60 158.00 303.50 158.00 303.50C158.00 303.50 181.50 275.30 181.50 275.30C181.50 275.30 205.00 238.40 205.00 238.40" fill="none" stroke="#000" stroke-width="1.5" stroke-dasharray="6.5,2.5" stroke-linejoin="round"/>
<path d="M46.70 343.80C46.70 343.80 64.00 342.70 64.00 342.70C64.00 342.70 75.60 340.80 75.60 340.80C75.60 340.80 99.20 340.00 99.20 340.00C99.20 340.00 116.50 338.50 116.50 338.50C116.50 338.50 139.90 340.50 139.90 340.50C139.90 340.50 158.00 342.40 158.00 342.40C158.00 342.40 181.30 342.80 181.30 342.80C181.30 342.80 205.50 342.70 205.50 342.70C205.50 342.70 222.80 341.10 222.80 341.10C222.80 341.10 240.10 337.80 240.10 337.80C240.10 337.80 263.40 331.00 263.40 331.00" fill="none" stroke="#000" stroke-width="1.35" stroke-dasharray="1.05,1.0" stroke-linejoin="round"/>
<rect x="43.80" y="340.90" width="5.8" height="5.8" fill="#000"/>
<rect x="61.10" y="339.80" width="5.8" height="5.8" fill="#000"/>
<rect x="72.70" y="337.90" width="5.8" height="5.8" fill="#000"/>
<rect x="96.30" y="336.50" width="5.8" height="5.8" fill="#000"/>
<rect x="113.60" y="326.90" width="5.8" height="5.8" fill="#000"/>
<rect x="137.00" y="310.00" width="5.8" height="5.8" fill="#000"/>
<rect x="155.10" y="288.90" width="5.8" height="5.8" fill="#000"/>
<rect x="178.90" y="254.50" width="5.8" height="5.8" fill="#000"/>
<rect x="202.30" y="211.30" width="5.8" height="5.8" fill="#000"/>
<path d="M46.70 340.20L49.80 346.20L43.60 346.20Z" fill="#000"/>
<path d="M64.00 339.10L67.10 345.10L60.90 345.10Z" fill="#000"/>
<path d="M75.60 337.20L78.70 343.20L72.50 343.20Z" fill="#000"/>
<path d="M99.20 336.00L102.30 342.00L96.10 342.00Z" fill="#000"/>
<path d="M116.50 333.00L119.60 339.00L113.40 339.00Z" fill="#000"/>
<path d="M139.90 330.20L143.00 336.20L136.80 336.20Z" fill="#000"/>
<path d="M158.00 327.50L161.10 333.50L154.90 333.50Z" fill="#000"/>
<path d="M181.30 324.70L184.40 330.70L178.20 330.70Z" fill="#000"/>
<path d="M205.30 316.00L208.40 322.00L202.20 322.00Z" fill="#000"/>
<path d="M222.80 298.90L225.90 304.90L219.70 304.90Z" fill="#000"/>
<path d="M240.10 278.70L243.20 284.70L237.00 284.70Z" fill="#000"/>
<path d="M263.00 247.60L266.10 253.60L259.90 253.60Z" fill="#000"/>
<path d="M46.70 340.70L49.40 343.80L46.70 346.90L44.00 343.80Z" fill="#000"/>
<path d="M64.00 339.60L66.70 342.70L64.00 345.80L61.30 342.70Z" fill="#000"/>
<path d="M75.60 337.70L78.30 340.80L75.60 343.90L72.90 340.80Z" fill="#000"/>
<path d="M99.20 336.30L101.90 339.40L99.20 342.50L96.50 339.40Z" fill="#000"/>
<path d="M116.50 329.10L119.20 332.20L116.50 335.30L113.80 332.20Z" fill="#000"/>
<path d="M139.90 318.50L142.60 321.60L139.90 324.70L137.20 321.60Z" fill="#000"/>
<path d="M158.00 300.40L160.70 303.50L158.00 306.60L155.30 303.50Z" fill="#000"/>
<path d="M181.50 272.20L184.20 275.30L181.50 278.40L178.80 275.30Z" fill="#000"/>
<path d="M205.00 235.30L207.70 238.40L205.00 241.50L202.30 238.40Z" fill="#000"/>
<circle cx="46.70" cy="343.80" r="3.0" fill="#000"/>
<circle cx="64.00" cy="342.70" r="3.0" fill="#000"/>
<circle cx="75.60" cy="340.80" r="3.0" fill="#000"/>
<circle cx="99.20" cy="340.00" r="3.0" fill="#000"/>
<circle cx="116.50" cy="338.50" r="3.0" fill="#000"/>
<circle cx="139.90" cy="340.50" r="3.0" fill="#000"/>
<circle cx="158.00" cy="342.40" r="3.0" fill="#000"/>
<circle cx="181.30" cy="342.80" r="3.0" fill="#000"/>
<circle cx="205.50" cy="342.70" r="3.0" fill="#000"/>
<circle cx="222.80" cy="341.10" r="3.0" fill="#000"/>
<circle cx="240.10" cy="337.80" r="3.0" fill="#000"/>
<circle cx="263.40" cy="331.00" r="3.0" fill="#000"/>
<rect x="288.9" y="196.3" width="225.40" height="154.30" fill="none" stroke="#555" stroke-width="1.3"/>
<line x1="285.70" y1="350.6" x2="288.9" y2="350.6" stroke="#555" stroke-width="1.1"/>
<line x1="285.70" y1="319.8" x2="288.9" y2="319.8" stroke="#555" stroke-width="1.1"/>
<line x1="285.70" y1="289.0" x2="288.9" y2="289.0" stroke="#555" stroke-width="1.1"/>
<line x1="285.70" y1="258.2" x2="288.9" y2="258.2" stroke="#555" stroke-width="1.1"/>
<line x1="285.70" y1="227.4" x2="288.9" y2="227.4" stroke="#555" stroke-width="1.1"/>
<line x1="285.70" y1="196.6" x2="288.9" y2="196.6" stroke="#555" stroke-width="1.1"/>
<line x1="288.90" y1="350.6" x2="288.90" y2="353.20" stroke="#555" stroke-width="1.1"/>
<text x="288.90" y="363.80" font-size="8.86" text-anchor="middle" font-weight="normal" fill="#111" stroke="#111" stroke-width="0.3">7</text>
<line x1="326.45" y1="350.6" x2="326.45" y2="353.20" stroke="#555" stroke-width="1.1"/>
<text x="326.45" y="363.80" font-size="8.86" text-anchor="middle" font-weight="normal" fill="#111" stroke="#111" stroke-width="0.3">14</text>
<line x1="364.01" y1="350.6" x2="364.01" y2="353.20" stroke="#555" stroke-width="1.1"/>
<text x="364.01" y="363.80" font-size="8.86" text-anchor="middle" font-weight="normal" fill="#111" stroke="#111" stroke-width="0.3">21</text>
<line x1="401.56" y1="350.6" x2="401.56" y2="353.20" stroke="#555" stroke-width="1.1"/>
<text x="401.56" y="363.80" font-size="8.86" text-anchor="middle" font-weight="normal" fill="#111" stroke="#111" stroke-width="0.3">28</text>
<line x1="439.12" y1="350.6" x2="439.12" y2="353.20" stroke="#555" stroke-width="1.1"/>
<text x="439.12" y="363.80" font-size="8.86" text-anchor="middle" font-weight="normal" fill="#111" stroke="#111" stroke-width="0.3">35</text>
<line x1="476.67" y1="350.6" x2="476.67" y2="353.20" stroke="#555" stroke-width="1.1"/>
<text x="476.67" y="363.80" font-size="8.86" text-anchor="middle" font-weight="normal" fill="#111" stroke="#111" stroke-width="0.3">42</text>
<line x1="514.23" y1="350.6" x2="514.23" y2="353.20" stroke="#555" stroke-width="1.1"/>
<text x="514.23" y="363.80" font-size="8.86" text-anchor="middle" font-weight="normal" fill="#111" stroke="#111" stroke-width="0.3">49</text>
<text x="298.80" y="211.80" font-size="10.0" text-anchor="start" font-weight="bold" fill="#111" stroke="#111" stroke-width="0.3" textLength="80.0" lengthAdjust="spacingAndGlyphs">Carcinoma PC-3</text>
<path d="M293.80 262.30L295.80 266.20L291.80 266.20Z" fill="#a0a0a0" stroke="#5a5a5a" stroke-width="0.8"/><path d="M293.80 270.70L295.80 266.80L291.80 266.80Z" fill="#a0a0a0" stroke="#5a5a5a" stroke-width="0.8"/>
<text x="299.50" y="269.80" font-size="8.86" text-anchor="start" font-weight="normal" fill="#111" stroke="#111" stroke-width="0.3" textLength="91.8" lengthAdjust="spacingAndGlyphs">XRT: 1 Gy × 8 fractions</text>
<path d="M293.80 273.30L295.80 277.00L291.80 277.00Z" fill="#111" stroke="#000" stroke-width="0.8"/><path d="M293.80 281.30L295.80 277.60L291.80 277.60Z" fill="#111" stroke="#000" stroke-width="0.8"/>
<text x="299.50" y="280.30" font-size="8.86" text-anchor="start" font-weight="normal" fill="#111" stroke="#111" stroke-width="0.3" textLength="100.6" lengthAdjust="spacingAndGlyphs">Drug: 10 mg/kg × 4 doses</text>
<path d="M299.20 337.10V348.00M297.10 337.10H301.30M297.10 348.00H301.30" stroke="#7c7c7c" stroke-width="1.0" fill="none"/>
<path d="M411.80 318.50V327.20M409.70 318.50H413.90M409.70 327.20H413.90" stroke="#7c7c7c" stroke-width="1.0" fill="none"/>
<path d="M427.90 305.30V317.30M425.80 305.30H430.00M425.80 317.30H430.00" stroke="#7c7c7c" stroke-width="1.0" fill="none"/>
<path d="M449.60 280.20V300.30M447.50 280.20H451.70M447.50 300.30H451.70" stroke="#7c7c7c" stroke-width="1.0" fill="none"/>
<path d="M465.30 242.40V278.40M463.20 242.40H467.40M463.20 278.40H467.40" stroke="#7c7c7c" stroke-width="1.0" fill="none"/>
<path d="M481.70 203.20V273.50M479.60 203.20H483.80M479.60 273.50H483.80" stroke="#7c7c7c" stroke-width="1.0" fill="none"/>
<path d="M428.00 324.70V333.00M425.90 324.70H430.10M425.90 333.00H430.10" stroke="#7c7c7c" stroke-width="1.0" fill="none"/>
<path d="M449.70 315.30V326.00M447.60 315.30H451.80M447.60 326.00H451.80" stroke="#7c7c7c" stroke-width="1.0" fill="none"/>
<path d="M465.50 302.50V316.00M463.40 302.50H467.60M463.40 316.00H467.60" stroke="#7c7c7c" stroke-width="1.0" fill="none"/>
<path d="M481.70 282.70V300.40M479.60 282.70H483.80M479.60 300.40H483.80" stroke="#7c7c7c" stroke-width="1.0" fill="none"/>
<path d="M503.60 235.90V271.90M501.50 235.90H505.70M501.50 271.90H505.70" stroke="#7c7c7c" stroke-width="1.0" fill="none"/>
<path d="M465.50 315.00V325.00M463.40 315.00H467.60M463.40 325.00H467.60" stroke="#7c7c7c" stroke-width="1.0" fill="none"/>
<path d="M481.80 307.90V319.00M479.70 307.90H483.90M479.70 319.00H483.90" stroke="#7c7c7c" stroke-width="1.0" fill="none"/>
<path d="M503.60 293.20V304.60M501.50 293.20H505.70M501.50 304.60H505.70" stroke="#7c7c7c" stroke-width="1.0" fill="none"/>
<path d="M311.80 331.80L313.80 335.70L309.80 335.70Z" fill="#a0a0a0" stroke="#5a5a5a" stroke-width="0.8"/><path d="M311.80 340.20L313.80 336.30L309.80 336.30Z" fill="#a0a0a0" stroke="#5a5a5a" stroke-width="0.8"/>
<path d="M328.30 330.20L330.30 334.10L326.30 334.10Z" fill="#a0a0a0" stroke="#5a5a5a" stroke-width="0.8"/><path d="M328.30 338.60L330.30 334.70L326.30 334.70Z" fill="#a0a0a0" stroke="#5a5a5a" stroke-width="0.8"/>
<path d="M343.00 327.60L345.00 331.50L341.00 331.50Z" fill="#a0a0a0" stroke="#5a5a5a" stroke-width="0.8"/><path d="M343.00 336.00L345.00 332.10L341.00 332.10Z" fill="#a0a0a0" stroke="#5a5a5a" stroke-width="0.8"/>
<path d="M358.20 325.50L360.20 329.40L356.20 329.40Z" fill="#a0a0a0" stroke="#5a5a5a" stroke-width="0.8"/><path d="M358.20 333.90L360.20 330.00L356.20 330.00Z" fill="#a0a0a0" stroke="#5a5a5a" stroke-width="0.8"/>
<path d="M373.30 320.90L375.30 324.80L371.30 324.80Z" fill="#a0a0a0" stroke="#5a5a5a" stroke-width="0.8"/><path d="M373.30 329.30L375.30 325.40L371.30 325.40Z" fill="#a0a0a0" stroke="#5a5a5a" stroke-width="0.8"/>
<path d="M388.70 315.10L390.70 319.00L386.70 319.00Z" fill="#a0a0a0" stroke="#5a5a5a" stroke-width="0.8"/><path d="M388.70 323.50L390.70 319.60L386.70 319.60Z" fill="#a0a0a0" stroke="#5a5a5a" stroke-width="0.8"/>
<path d="M401.80 308.60L403.80 312.50L399.80 312.50Z" fill="#a0a0a0" stroke="#5a5a5a" stroke-width="0.8"/><path d="M401.80 317.00L403.80 313.10L399.80 313.10Z" fill="#a0a0a0" stroke="#5a5a5a" stroke-width="0.8"/>
<path d="M416.80 296.10L418.80 300.00L414.80 300.00Z" fill="#a0a0a0" stroke="#5a5a5a" stroke-width="0.8"/><path d="M416.80 304.50L418.80 300.60L414.80 300.60Z" fill="#a0a0a0" stroke="#5a5a5a" stroke-width="0.8"/>
<path d="M299.00 352.80L300.80 356.40L297.20 356.40Z" fill="#111" stroke="#000" stroke-width="0.7"/><path d="M299.00 360.60L300.80 357.00L297.20 357.00Z" fill="#111" stroke="#000" stroke-width="0.7"/>
<path d="M334.00 351.70L335.80 355.30L332.20 355.30Z" fill="#111" stroke="#000" stroke-width="0.7"/><path d="M334.00 359.50L335.80 355.90L332.20 355.90Z" fill="#111" stroke="#000" stroke-width="0.7"/>
<path d="M371.20 351.30L373.00 354.90L369.40 354.90Z" fill="#111" stroke="#000" stroke-width="0.7"/><path d="M371.20 359.10L373.00 355.50L369.40 355.50Z" fill="#111" stroke="#000" stroke-width="0.7"/>
<path d="M408.30 351.30L410.10 354.90L406.50 354.90Z" fill="#111" stroke="#000" stroke-width="0.7"/><path d="M408.30 359.10L410.10 355.50L406.50 355.50Z" fill="#111" stroke="#000" stroke-width="0.7"/>
<path d="M289.50 344.20C289.50 344.20 299.20 344.00 299.20 344.00C299.20 344.00 320.60 343.30 320.60 343.30C320.60 343.30 336.30 342.30 336.30 342.30C336.30 342.30 352.40 340.20 352.40 340.20C352.40 340.20 374.50 335.50 374.50 335.50C374.50 335.50 390.40 329.70 390.40 329.70C390.40 329.70 411.80 322.70 411.80 322.70C411.80 322.70 427.90 311.10 427.90 311.10C427.90 311.10 449.60 289.90 449.60 289.90C449.60 289.90 465.30 260.40 465.30 260.40C465.30 260.40 481.70 238.20 481.70 238.20" fill="none" stroke="#000" stroke-width="1.5" stroke-linejoin="round"/>
<path d="M289.50 344.20C289.50 344.20 299.20 344.00 299.20 344.00C299.20 344.00 320.60 343.30 320.60 343.30C320.60 343.30 336.30 342.30 336.30 342.30C336.30 342.30 352.40 341.50 352.40 341.50C352.40 341.50 374.50 339.60 374.50 339.60C374.50 339.60 390.40 338.60 390.40 338.60C390.40 338.60 411.80 337.20 411.80 337.20C411.80 337.20 428.00 334.20 428.00 334.20C428.00 334.20 449.70 326.80 449.70 326.80C449.70 326.80 465.50 320.20 465.50 320.20C465.50 320.20 481.80 313.20 481.80 313.20C481.80 313.20 503.60 299.00 503.60 299.00" fill="none" stroke="#000" stroke-width="1.45" stroke-dasharray="2.8,1.7" stroke-linejoin="round"/>
<path d="M289.50 344.20C289.50 344.20 299.20 344.00 299.20 344.00C299.20 344.00 320.60 343.30 320.60 343.30C320.60 343.30 336.30 342.30 336.30 342.30C336.30 342.30 352.40 341.00 352.40 341.00C352.40 341.00 374.50 339.00 374.50 339.00C374.50 339.00 390.40 337.70 390.40 337.70C390.40 337.70 411.80 335.20 411.80 335.20C411.80 335.20 428.00 329.00 428.00 329.00C428.00 329.00 449.70 320.90 449.70 320.90C449.70 320.90 465.50 309.30 465.50 309.30C465.50 309.30 481.70 291.50 481.70 291.50C481.70 291.50 503.60 253.90 503.60 253.90" fill="none" stroke="#000" stroke-width="1.5" stroke-dasharray="6.5,2.5" stroke-linejoin="round"/>
<path d="M289.50 344.20C289.50 344.20 299.20 344.00 299.20 344.00C299.20 344.00 320.60 343.30 320.60 343.30C320.60 343.30 336.30 342.30 336.30 342.30C336.30 342.30 352.40 342.30 352.40 342.30C352.40 342.30 374.50 342.30 374.50 342.30C374.50 342.30 390.40 343.40 390.40 343.40C390.40 343.40 411.80 344.10 411.80 344.10C411.80 344.10 428.10 344.20 428.10 344.20C428.10 344.20 449.80 344.60 449.80 344.60C449.80 344.60 465.60 344.20 465.60 344.20C465.60 344.20 481.90 343.30 481.90 343.30C481.90 343.30 503.10 341.90 503.10 341.90" fill="none" stroke="#000" stroke-width="1.35" stroke-dasharray="1.05,1.0" stroke-linejoin="round"/>
<rect x="296.30" y="341.10" width="5.8" height="5.8" fill="#000"/>
<rect x="317.70" y="340.40" width="5.8" height="5.8" fill="#000"/>
<rect x="333.40" y="339.40" width="5.8" height="5.8" fill="#000"/>
<rect x="349.50" y="337.30" width="5.8" height="5.8" fill="#000"/>
<rect x="371.60" y="332.60" width="5.8" height="5.8" fill="#000"/>
<rect x="387.50" y="326.80" width="5.8" height="5.8" fill="#000"/>
<rect x="408.90" y="319.80" width="5.8" height="5.8" fill="#000"/>
<rect x="425.00" y="308.20" width="5.8" height="5.8" fill="#000"/>
<rect x="446.70" y="287.00" width="5.8" height="5.8" fill="#000"/>
<rect x="462.40" y="257.50" width="5.8" height="5.8" fill="#000"/>
<rect x="478.80" y="235.30" width="5.8" height="5.8" fill="#000"/>
<path d="M299.20 340.40L302.30 346.40L296.10 346.40Z" fill="#000"/>
<path d="M320.60 339.70L323.70 345.70L317.50 345.70Z" fill="#000"/>
<path d="M336.30 338.70L339.40 344.70L333.20 344.70Z" fill="#000"/>
<path d="M352.40 337.90L355.50 343.90L349.30 343.90Z" fill="#000"/>
<path d="M374.50 336.00L377.60 342.00L371.40 342.00Z" fill="#000"/>
<path d="M390.40 335.00L393.50 341.00L387.30 341.00Z" fill="#000"/>
<path d="M411.80 333.60L414.90 339.60L408.70 339.60Z" fill="#000"/>
<path d="M428.00 330.60L431.10 336.60L424.90 336.60Z" fill="#000"/>
<path d="M449.70 323.20L452.80 329.20L446.60 329.20Z" fill="#000"/>
<path d="M465.50 316.60L468.60 322.60L462.40 322.60Z" fill="#000"/>
<path d="M481.80 309.60L484.90 315.60L478.70 315.60Z" fill="#000"/>
<path d="M503.60 295.40L506.70 301.40L500.50 301.40Z" fill="#000"/>
<path d="M299.20 340.90L301.90 344.00L299.20 347.10L296.50 344.00Z" fill="#000"/>
<path d="M320.60 340.20L323.30 343.30L320.60 346.40L317.90 343.30Z" fill="#000"/>
<path d="M336.30 339.20L339.00 342.30L336.30 345.40L333.60 342.30Z" fill="#000"/>
<path d="M352.40 337.90L355.10 341.00L352.40 344.10L349.70 341.00Z" fill="#000"/>
<path d="M374.50 335.90L377.20 339.00L374.50 342.10L371.80 339.00Z" fill="#000"/>
<path d="M390.40 334.60L393.10 337.70L390.40 340.80L387.70 337.70Z" fill="#000"/>
<path d="M411.80 332.10L414.50 335.20L411.80 338.30L409.10 335.20Z" fill="#000"/>
<path d="M428.00 325.90L430.70 329.00L428.00 332.10L425.30 329.00Z" fill="#000"/>
<path d="M449.70 317.80L452.40 320.90L449.70 324.00L447.00 320.90Z" fill="#000"/>
<path d="M465.50 306.20L468.20 309.30L465.50 312.40L462.80 309.30Z" fill="#000"/>
<path d="M481.70 288.40L484.40 291.50L481.70 294.60L479.00 291.50Z" fill="#000"/>
<path d="M503.60 250.80L506.30 253.90L503.60 257.00L500.90 253.90Z" fill="#000"/>
<circle cx="299.20" cy="344.00" r="3.0" fill="#000"/>
<circle cx="320.60" cy="343.30" r="3.0" fill="#000"/>
<circle cx="336.30" cy="342.30" r="3.0" fill="#000"/>
<circle cx="352.40" cy="342.30" r="3.0" fill="#000"/>
<circle cx="374.50" cy="342.30" r="3.0" fill="#000"/>
<circle cx="390.40" cy="343.40" r="3.0" fill="#000"/>
<circle cx="411.80" cy="344.10" r="3.0" fill="#000"/>
<circle cx="428.10" cy="344.20" r="3.0" fill="#000"/>
<circle cx="449.80" cy="344.60" r="3.0" fill="#000"/>
<circle cx="465.60" cy="344.20" r="3.0" fill="#000"/>
<circle cx="481.90" cy="343.30" r="3.0" fill="#000"/>
<circle cx="503.10" cy="341.90" r="3.0" fill="#000"/>
<line x1="56" y1="34.1" x2="74.6" y2="34.1" stroke="#000" stroke-width="1.5"/>
<rect x="62.40" y="31.20" width="5.8" height="5.8" fill="#000"/>
<text x="77.10" y="37.60" font-size="8.86" text-anchor="start" font-weight="normal" fill="#111" stroke="#111" stroke-width="0.3" textLength="28.5" lengthAdjust="spacingAndGlyphs">Control</text>
<line x1="56" y1="44.3" x2="74.6" y2="44.3" stroke="#000" stroke-width="1.45" stroke-dasharray="2.8,1.7"/>
<path d="M65.30 40.70L68.40 46.70L62.20 46.70Z" fill="#000"/>
<text x="77.10" y="47.40" font-size="8.86" text-anchor="start" font-weight="normal" fill="#111" stroke="#111" stroke-width="0.3">XRT</text>
<line x1="56" y1="54.0" x2="74.6" y2="54.0" stroke="#000" stroke-width="1.5"/>
<path d="M65.30 50.90L68.00 54.00L65.30 57.10L62.60 54.00Z" fill="#000"/>
<text x="77.10" y="57.20" font-size="8.86" text-anchor="start" font-weight="normal" fill="#111" stroke="#111" stroke-width="0.3">CLR127</text>
<line x1="56" y1="63.5" x2="74.6" y2="63.5" stroke="#000" stroke-width="1.35" stroke-dasharray="1.05,1.0"/>
<circle cx="65.30" cy="63.50" r="3.0" fill="#000"/>
<text x="77.10" y="66.90" font-size="8.86" text-anchor="start" font-weight="normal" fill="#111" stroke="#111" stroke-width="0.3" textLength="60.0" lengthAdjust="spacingAndGlyphs">CLR127 + XRT</text>
<text x="73.20" y="184.90" font-size="8.86" text-anchor="start" font-weight="normal" fill="#111" stroke="#111" stroke-width="0.3" textLength="108.0" lengthAdjust="spacingAndGlyphs">Time (days postinoculation)</text>
<line x1="201.3" y1="182.3" x2="258.1" y2="182.3" stroke="#222" stroke-width="1"/>
<path d="M254.40000000000003 179.3L258.6 182.3L254.40000000000003 185.3" fill="none" stroke="#222" stroke-width="1"/>
<text x="73.60" y="379.10" font-size="8.86" text-anchor="start" font-weight="normal" fill="#111" stroke="#111" stroke-width="0.3" textLength="108.0" lengthAdjust="spacingAndGlyphs">Time (days postinoculation)</text>
<line x1="201.1" y1="377.0" x2="257.8" y2="377.0" stroke="#222" stroke-width="1"/>
<path d="M254.10000000000002 374.0L258.3 377.0L254.10000000000002 380.0" fill="none" stroke="#222" stroke-width="1"/>
<line x1="5.1" y1="163.5" x2="5.1" y2="218.8" stroke="#333" stroke-width="1.1"/>
<path d="M2.0 167L5.1 162.6L8.2 167" fill="none" stroke="#333" stroke-width="1.1"/>
<text transform="translate(8.8,329) rotate(-90)" font-size="8.86" fill="#111" textLength="88.5" lengthAdjust="spacingAndGlyphs">Tumor volume (mm<tspan font-size="6" dy="-3">3</tspan><tspan dy="3">)</tspan></text>
</svg></body></html>
